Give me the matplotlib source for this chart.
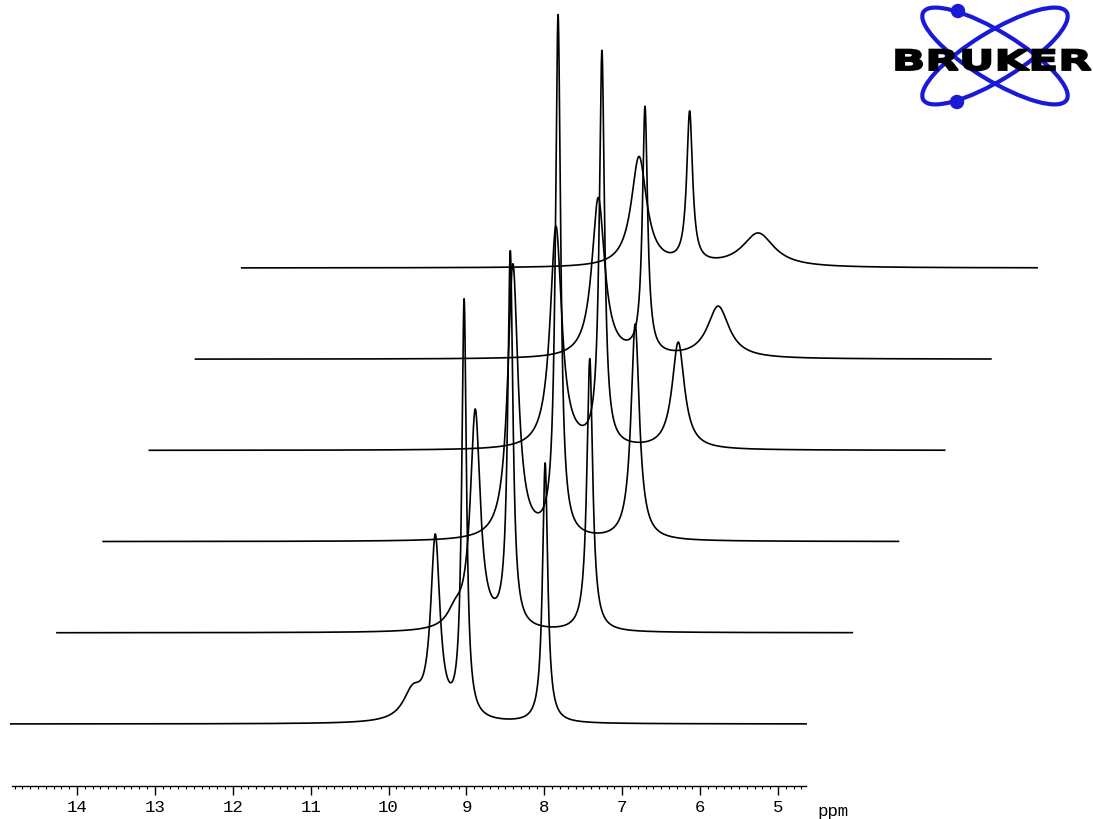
import numpy as np
import matplotlib
matplotlib.use('Agg')
import matplotlib.pyplot as plt
from matplotlib.patches import Ellipse, Circle, PathPatch
from matplotlib.textpath import TextPath
from matplotlib.font_manager import FontProperties
from matplotlib.transforms import Affine2D
from matplotlib.ticker import FixedLocator

# spectra from bottom (0) to top (5); shift in ppm, height in plot units, half width in ppm
a_ppm = [9.40, 9.48, 9.59, 9.63, 9.68, 9.75]
a_height = [180, 218, 275, 222, 160, 110]
a_width = [0.072, 0.077, 0.08, 0.09, 0.10, 0.12]

b_ppm = [9.03, 9.03, 9.01, 9.04, 9.08, 9.10]
b_height = [417, 375, 521, 394, 247, 151]
b_width = [0.036, 0.04, 0.04, 0.04, 0.04, 0.045]

c_ppm = [7.99, 8.01, 8.02, 8.06, 8.14, 8.22]
c_height = [260, 273, 216, 107, 52, 34]
c_width = [0.04, 0.045, 0.065, 0.096, 0.17, 0.25]

# small broad shoulder left of peak A in the two lowest spectra
shoulder_ppm = [9.69, 9.74]
shoulder_height = [28, 15]
shoulder_width = [0.15, 0.12]

major_ticks = [5, 6, 7, 8, 9, 10, 11, 12, 13, 14]

dx = 0.593   # horizontal stacking offset (ppm)
dy = 91.2    # vertical stacking offset


def lorentz(x, x0, h, g):
    return h / (1 + ((x - x0) / g) ** 2)


ppm = np.linspace(14.85, 4.64, 8000)

fig = plt.figure(figsize=(10.93, 8.2), dpi=100)
ax = fig.add_axes([0, 33 / 820, 1, 787 / 820])

for i in range(6):
    y = lorentz(ppm, a_ppm[i], a_height[i], a_width[i])
    y += lorentz(ppm, b_ppm[i], b_height[i], b_width[i])
    y += lorentz(ppm, c_ppm[i], c_height[i], c_width[i])
    if i < len(shoulder_ppm):
        y += lorentz(ppm, shoulder_ppm[i], shoulder_height[i], shoulder_width[i])
    ax.plot(ppm - i * dx, y + i * dy, color='black', lw=1.2)

ax.set_xlim(14.988, 0.957)
ax.set_ylim(-62, 725)
for s in ['top', 'left', 'right']:
    ax.spines[s].set_visible(False)
ax.spines['bottom'].set_bounds(4.64, 14.83)
ax.spines['bottom'].set_linewidth(1.0)
ax.set_yticks([])
ax.xaxis.set_major_locator(FixedLocator(major_ticks))
ax.xaxis.set_minor_locator(FixedLocator(np.arange(4.7, 14.85, 0.1)))
ax.tick_params(axis='x', which='major', direction='out', length=6.5, width=1.0, pad=3)
ax.tick_params(axis='x', which='minor', direction='out', length=2.5, width=0.8)
ax.set_xticklabels([str(t) for t in major_ticks], family='Liberation Mono', fontsize=12.5)
ax.text(4.50, -87, 'ppm', family='Liberation Mono', fontsize=12.5,
        ha='left', va='center', clip_on=False)

# Bruker logo
lg = fig.add_axes([0, 0, 1, 1])
lg.set_xlim(0, 1093)
lg.set_ylim(820, 0)
lg.axis('off')
blue = '#1a1ad6'
for ang in [31.5, -31.5]:
    lg.add_patch(Ellipse((995, 57), 168, 48, angle=ang, fill=False,
                         edgecolor=blue, lw=3.0))
lg.add_patch(Circle((958, 12), 6.5, color=blue))
lg.add_patch(Circle((957, 103), 6.5, color=blue))

tp = TextPath((0, 0), 'BRUKER', size=1,
              prop=FontProperties(family='DejaVu Sans', weight='bold'))
ext = tp.get_extents()
sx = 195 / ext.width
sy = 21 / ext.height
tr = Affine2D().translate(-ext.x0, -ext.y0).scale(sx, -sy).translate(896, 71.5)
lg.add_patch(PathPatch(tr.transform_path(tp), facecolor='black',
                       edgecolor='black', lw=1.2, zorder=3))

fig.savefig('out.png', dpi=100)
